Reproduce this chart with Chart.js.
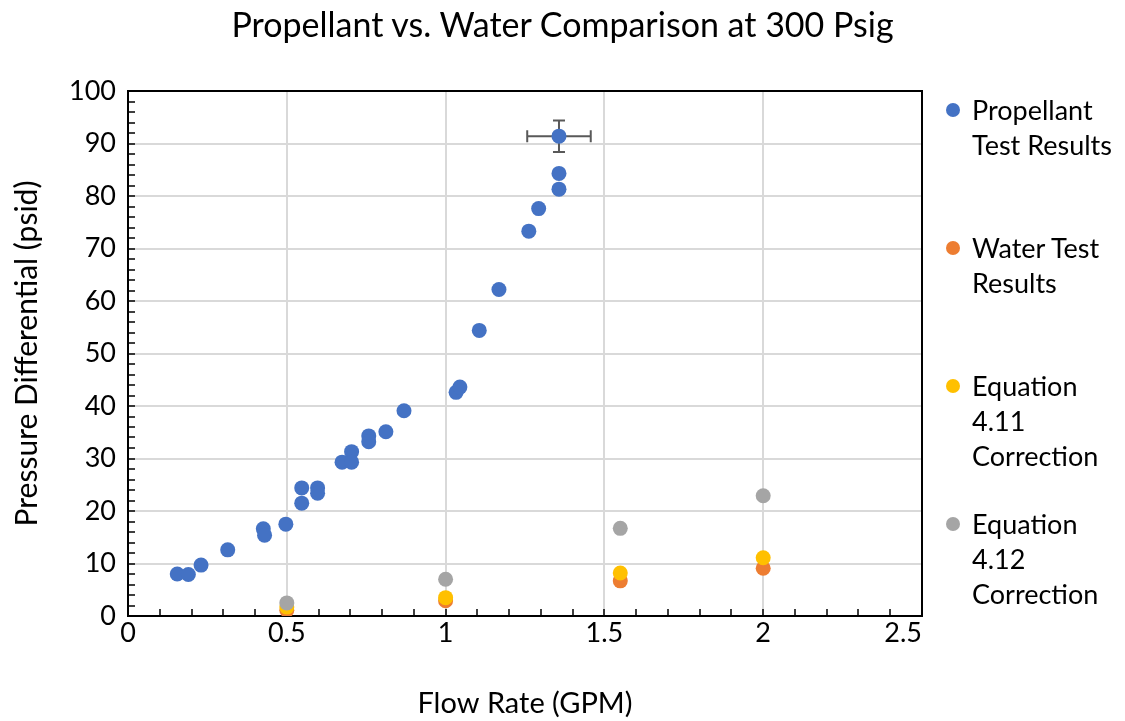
<!DOCTYPE html>
<html>
<head>
<meta charset="utf-8">
<script src="https://cdn.jsdelivr.net/npm/chart.js@4.4.1/dist/chart.umd.min.js"></script>
<style>
  body { margin: 0; background: #fff; }
  #wrap { position: relative; width: 1125px; height: 721px; }
  #title { position: absolute; left: 0; top: 2px; width: 1125px; text-align: center; font-family: Lato, sans-serif; font-size: 34px; line-height: 44px; color: #000; }
  #legend { position: absolute; left: 946px; top: 92px; font-family: Lato, sans-serif; font-size: 27px; line-height: 35px; color: #000; }
  .item { height: 138px; display: flex; align-items: flex-start; }
  .dot { width: 14px; height: 14px; border-radius: 50%; margin-top: 10.5px; margin-right: 12px; flex: none; }
  .txt { white-space: pre-line; }
</style>
</head>
<body>
<div id="wrap">
  <canvas id="chart"></canvas>
  <div id="title"></div>
  <div id="legend"></div>
</div>
<script>
const titleText = 'Propellant vs. Water Comparison at 300 Psig';
const xTitle = 'Flow Rate (GPM)';
const yTitle = 'Pressure Differential (psid)';
const seriesNames = ['Propellant\nTest Results', 'Water Test\nResults', 'Equation\n4.11\nCorrection', 'Equation\n4.12\nCorrection'];
const seriesColors = ['#4472C4', '#ED7D31', '#FFC000', '#A5A5A5'];

// propellant test points
const propX = [0.155, 0.19, 0.23, 0.314, 0.426, 0.43, 0.497, 0.547, 0.547, 0.597, 0.597, 0.674, 0.704, 0.704,
               0.758, 0.758, 0.812, 0.869, 1.033, 1.045, 1.106, 1.168, 1.262, 1.293, 1.357, 1.357, 1.357];
const propY = [8.0, 7.9, 9.7, 12.6, 16.6, 15.4, 17.5, 24.4, 21.5, 24.4, 23.4, 29.3, 31.3, 29.3,
               34.3, 33.2, 35.1, 39.1, 42.6, 43.6, 54.4, 62.2, 73.3, 77.6, 81.3, 84.3, 91.4];
const propXErr = [0, 0, 0, 0, 0, 0, 0, 0, 0, 0, 0, 0, 0, 0, 0, 0, 0, 0, 0, 0, 0, 0, 0, 0, 0, 0, 0.1];
const propYErr = [0, 0, 0, 0, 0, 0, 0, 0, 0, 0, 0, 0, 0, 0, 0, 0, 0, 0, 0, 0, 0, 0, 0, 0, 0, 0, 3];

// water + corrections
const corrX = [0.5, 1.0, 1.55, 2.0];
const waterY = [1.1, 2.9, 6.7, 9.1];
const eq411Y = [1.7, 3.5, 8.2, 11.1];
const eq412Y = [2.5, 7.0, 16.7, 22.9];

const xTicks = { min: 0, max: 2.5, step: 0.1, major: 0.5 };
const yTicks = { min: 0, max: 100, step: 2, major: 10 };

const isMajor = (v, m) => Math.abs(v / m - Math.round(v / m)) < 1e-6;
const fmtX = v => String(Math.round(v * 10) / 10);
const pts = (xs, ys) => xs.map((x, i) => ({ x: x, y: ys[i] }));
const font = (size) => ({ family: 'Lato, sans-serif', size: size, weight: 'normal' });

const framePlugin = {
    id: 'frame',
    beforeDatasetsDraw(chart) {
        const { ctx, chartArea: a, scales: { x, y } } = chart;
        ctx.save();
        ctx.strokeStyle = '#000';
        ctx.lineWidth = 2;
        ctx.strokeRect(a.left, a.top, a.right - a.left, a.bottom - a.top);
        ctx.lineWidth = 1.5;
        ctx.beginPath();
        x.ticks.forEach(t => {
            const px = Math.round(x.getPixelForValue(t.value));
            ctx.moveTo(px, a.bottom); ctx.lineTo(px, a.bottom - 7);
        });
        y.ticks.forEach(t => {
            const py = Math.round(y.getPixelForValue(t.value));
            ctx.moveTo(a.left, py); ctx.lineTo(a.left + 7, py);
        });
        ctx.stroke();

        // last x label sits inside the plot edge, like the original
        ctx.fillStyle = '#000';
        ctx.font = '27px Lato, sans-serif';
        ctx.textAlign = 'right';
        ctx.textBaseline = 'middle';
        ctx.fillText(fmtX(xTicks.max), x.getPixelForValue(xTicks.max), a.bottom + 17);

        // error bars on propellant series
        ctx.strokeStyle = '#595959';
        ctx.lineWidth = 2;
        ctx.beginPath();
        propX.forEach((vx, i) => {
            const px = x.getPixelForValue(vx), py = y.getPixelForValue(propY[i]);
            if (propXErr[i]) {
                const l = x.getPixelForValue(vx - propXErr[i]), r = x.getPixelForValue(vx + propXErr[i]);
                ctx.moveTo(l, py); ctx.lineTo(r, py);
                ctx.moveTo(l, py - 6); ctx.lineTo(l, py + 6);
                ctx.moveTo(r, py - 6); ctx.lineTo(r, py + 6);
            }
            if (propYErr[i]) {
                const t = y.getPixelForValue(propY[i] + propYErr[i]), b = y.getPixelForValue(propY[i] - propYErr[i]);
                ctx.moveTo(px, t); ctx.lineTo(px, b);
                ctx.moveTo(px - 6, t); ctx.lineTo(px + 6, t);
                ctx.moveTo(px - 6, b); ctx.lineTo(px + 6, b);
            }
        });
        ctx.stroke();
        ctx.restore();
    }
};

const seriesData = [pts(propX, propY), pts(corrX, waterY), pts(corrX, eq411Y), pts(corrX, eq412Y)];

const chart = new Chart(document.getElementById('chart'), {
    type: 'scatter',
    data: {
        datasets: seriesData.map((d, i) => ({
            label: seriesNames[i],
            data: d,
            backgroundColor: seriesColors[i],
            borderWidth: 0,
            pointRadius: 7.5,
            pointHoverRadius: 7.5,
            order: 4 - i
        }))
    },
    options: {
        responsive: true,
        maintainAspectRatio: false,
        animation: false,
        layout: { padding: { left: 0, right: 203, top: 91, bottom: 0 } },
        plugins: {
            legend: { display: false },
            tooltip: { enabled: false },
            title: { display: false }
        },
        scales: {
            x: {
                type: 'linear', min: xTicks.min, max: xTicks.max,
                afterFit: s => { s.height = 105; },
                border: { display: false },
                grid: {
                    drawTicks: false, lineWidth: 2,
                    color: c => isMajor(c.tick.value, xTicks.major) ? '#d9d9d9' : 'rgba(0,0,0,0)'
                },
                ticks: {
                    stepSize: xTicks.step, autoSkip: false, maxRotation: 0, padding: 1,
                    color: '#000', font: font(27),
                    callback: v => (isMajor(v, xTicks.major) && v < xTicks.max - 1e-6) ? fmtX(v) : ''
                },
                title: { display: true, text: xTitle, color: '#000', font: font(29), padding: { top: 0, bottom: 0 } }
            },
            y: {
                type: 'linear', min: yTicks.min, max: yTicks.max,
                afterFit: s => { s.width = 128; },
                border: { display: false },
                grid: {
                    drawTicks: false, lineWidth: 2,
                    color: c => isMajor(c.tick.value, yTicks.major) ? '#d9d9d9' : 'rgba(0,0,0,0)'
                },
                ticks: {
                    stepSize: yTicks.step, autoSkip: false, padding: 12,
                    color: '#000', font: font(27),
                    callback: v => isMajor(v, yTicks.major) ? String(v) : ''
                },
                title: { display: true, text: yTitle, color: '#000', font: font(30), padding: { top: 9, bottom: 0 } }
            }
        }
    },
    plugins: [framePlugin]
});

document.getElementById('title').textContent = titleText;

// legend
const legend = document.getElementById('legend');
seriesNames.forEach((name, i) => {
    const item = document.createElement('div');
    item.className = 'item';
    const dot = document.createElement('span');
    dot.className = 'dot';
    dot.style.backgroundColor = seriesColors[i];
    const txt = document.createElement('span');
    txt.className = 'txt';
    txt.textContent = name;
    item.appendChild(dot);
    item.appendChild(txt);
    legend.appendChild(item);
});
</script>
</body>
</html>
